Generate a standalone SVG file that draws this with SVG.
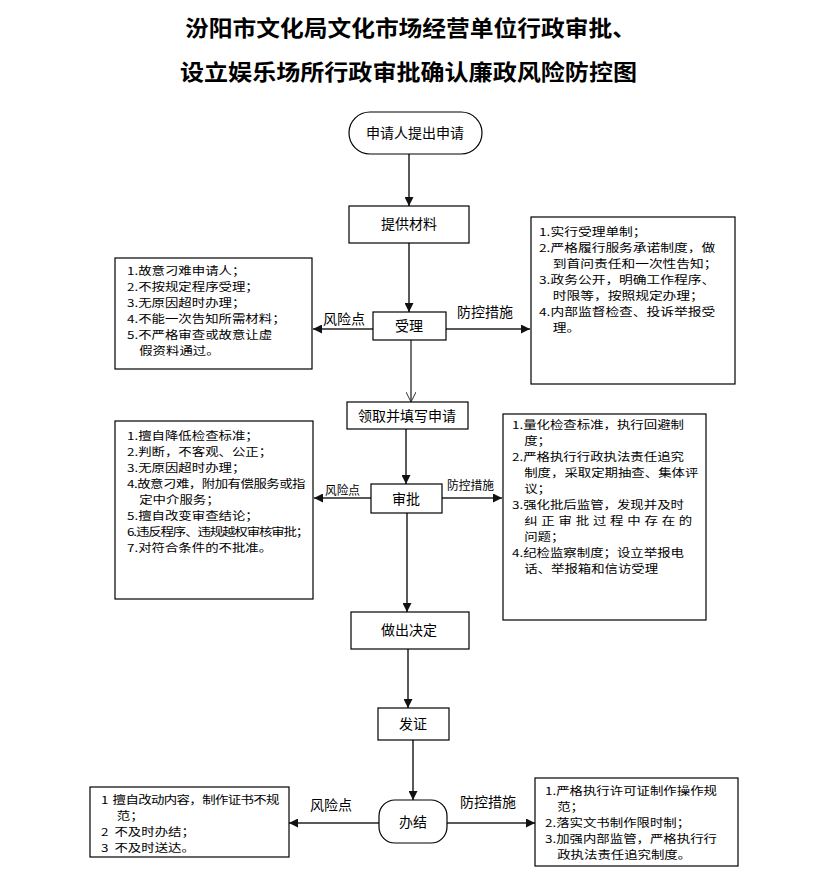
<svg xmlns="http://www.w3.org/2000/svg" width="824" height="885" viewBox="0 0 824 885">
<defs>
<marker id="ah" viewBox="0 0 10 10" refX="10" refY="5" markerWidth="10" markerHeight="9" markerUnits="userSpaceOnUse" orient="auto">
<path d="M0,0 L10,5 L0,10 z" fill="#111"/>
</marker>
<marker id="av" viewBox="0 0 10 10" refX="10" refY="5" markerWidth="10" markerHeight="10" markerUnits="userSpaceOnUse" orient="auto">
<path d="M0,0 L10,5 L0,10" fill="none" stroke="#333" stroke-width="1"/>
</marker>
<style>
.title{font-family:"Noto Sans CJK SC","Noto Sans CJK TC",sans-serif;font-size:22px;font-weight:bold;fill:#000}
.box{fill:#fff;stroke:#000;stroke-width:1.2}
.nt{font-family:"Noto Sans CJK SC",sans-serif;font-size:14px;fill:#000;text-anchor:middle}
.bt{font-family:"Noto Sans CJK SC",sans-serif;font-size:11px;fill:#000}
.lb{font-family:"Noto Sans CJK SC",sans-serif;font-size:14px;fill:#000}
.lbs{font-family:"Noto Sans CJK SC",sans-serif;font-size:12px;fill:#000}
.c{fill:none;stroke:#444;stroke-width:1.5}
.cf{fill:none;stroke:#222;stroke-width:1.5;marker-end:url(#ah)}
</style>
</defs>
<rect width="824" height="885" fill="#fff"/>
<g id="title">
<text class="title" x="185" y="36" textLength="451" lengthAdjust="spacingAndGlyphs">汾阳市文化局文化市场经营单位行政审批、</text>
<text class="title" x="180" y="80" textLength="457" lengthAdjust="spacingAndGlyphs">设立娱乐场所行政审批确认廉政风险防控图</text>
</g>
<g id="connectors">
<line class="cf" x1="409" y1="154" x2="409" y2="206"/>
<line class="cf" x1="409" y1="243" x2="409" y2="312"/>
<line class="c" x1="411" y1="340" x2="411" y2="402" style="marker-end:url(#av)"/>
<line class="cf" x1="406" y1="429" x2="406" y2="484"/>
<line class="cf" x1="407" y1="513" x2="407" y2="612"/>
<line class="cf" x1="408" y1="649" x2="408" y2="708"/>
<line class="cf" x1="413" y1="740" x2="413" y2="800"/>
<line class="cf" x1="373" y1="329" x2="313" y2="329"/>
<line class="cf" x1="446" y1="329" x2="530" y2="329"/>
<line class="cf" x1="371" y1="498" x2="314" y2="498"/>
<line class="cf" x1="442" y1="498" x2="502" y2="498"/>
<line class="cf" x1="379" y1="823" x2="289" y2="823"/>
<line class="cf" x1="447" y1="823" x2="535" y2="823"/>
<text class="lb" x="323" y="324">风险点</text>
<text class="lb" x="457" y="317">防控措施</text>
<text class="lbs" x="325" y="495" textLength="35" lengthAdjust="spacingAndGlyphs">风险点</text>
<text class="lbs" x="447" y="490" textLength="47" lengthAdjust="spacingAndGlyphs">防控措施</text>
<text class="lb" x="310" y="810">风险点</text>
<text class="lb" x="460" y="807">防控措施</text>
</g>
<g id="n-start">
<rect class="box" x="349" y="112" width="133" height="42" rx="21"/>
<text class="nt" x="415" y="138">申请人提出申请</text>
</g>
<g id="n-material">
<rect class="box" x="349" y="206" width="120" height="37"/>
<text class="nt" x="409" y="229">提供材料</text>
</g>
<g id="n-accept">
<rect class="box" x="373" y="312" width="73" height="28"/>
<text class="nt" x="409" y="331">受理</text>
</g>
<g id="n-apply">
<rect class="box" x="347" y="402" width="121" height="27"/>
<text class="nt" x="407" y="421">领取并填写申请</text>
</g>
<g id="n-approve">
<rect class="box" x="371" y="484" width="71" height="29"/>
<text class="nt" x="406" y="504">审批</text>
</g>
<g id="n-decide">
<rect class="box" x="351" y="612" width="118" height="37"/>
<text class="nt" x="409" y="635">做出决定</text>
</g>
<g id="n-license">
<rect class="box" x="378" y="708" width="71" height="32"/>
<text class="nt" x="413" y="729">发证</text>
</g>
<g id="n-finish">
<rect class="box" x="379" y="800" width="68" height="43" rx="16"/>
<text class="nt" x="413" y="827">办结</text>
</g>
<g id="risk-1">
<rect class="box" x="115" y="258" width="197" height="111"/>
<text class="bt" transform="translate(127 0) scale(1.22 1)"><tspan x="0" y="275">1.故意刁难申请人；</tspan><tspan x="0" y="291">2.不按规定程序受理；</tspan><tspan x="0" y="307">3.无原因超时办理；</tspan><tspan x="0" y="323">4.不能一次告知所需材料；</tspan><tspan x="0" y="339">5.不严格审查或故意让虚</tspan><tspan x="10" y="355">假资料通过。</tspan></text>
</g>
<g id="measure-1">
<rect class="box" x="531" y="217" width="204" height="167"/>
<text class="bt" transform="translate(539 0) scale(1.25 1)"><tspan x="0" y="236">1.实行受理单制；</tspan><tspan x="0" y="252">2.严格履行服务承诺制度，做</tspan><tspan x="11" y="268">到首问责任和一次性告知；</tspan><tspan x="0" y="284">3.政务公开，明确工作程序、</tspan><tspan x="11" y="300">时限等，按照规定办理；</tspan><tspan x="0" y="316">4.内部监督检查、投诉举报受</tspan><tspan x="11" y="332">理。</tspan></text>
</g>
<g id="risk-2">
<rect class="box" x="115" y="421" width="198" height="178"/>
<text class="bt" transform="translate(127 0) scale(1.22 1)"><tspan x="0" y="440">1.擅自降低检查标准；</tspan><tspan x="0" y="456">2.判断，不客观、公正；</tspan><tspan x="0" y="472">3.无原因超时办理；</tspan><tspan x="0" y="488" letter-spacing="-0.4">4.故意刁难，附加有偿服务或指</tspan><tspan x="10" y="504">定中介服务；</tspan><tspan x="0" y="520">5.擅自改变审查结论；</tspan><tspan x="0" y="536" letter-spacing="-0.9">6.违反程序、违规越权审核审批；</tspan><tspan x="0" y="552">7.对符合条件的不批准。</tspan></text>
</g>
<g id="measure-2">
<rect class="box" x="503" y="414" width="203" height="206"/>
<text class="bt" transform="translate(512 0) scale(1.22 1)"><tspan x="0" y="429">1.量化检查标准，执行回避制</tspan><tspan x="10" y="445">度；</tspan><tspan x="0" y="461">2.严格执行行政执法责任追究</tspan><tspan x="10" y="477">制度，采取定期抽查、集体评</tspan><tspan x="10" y="493">议；</tspan><tspan x="0" y="509">3.强化批后监管，发现并及时</tspan><tspan x="10" y="525" letter-spacing="3.1">纠正审批过程中存在的</tspan><tspan x="10" y="541">问题；</tspan><tspan x="0" y="557">4.纪检监察制度；设立举报电</tspan><tspan x="10" y="573">话、举报箱和信访受理</tspan></text>
</g>
<g id="risk-3">
<rect class="box" x="90" y="787" width="199" height="70"/>
<text class="bt" transform="translate(101 0) scale(1.22 1)"><tspan x="0" y="804" letter-spacing="-0.5">1&#160;&#160;擅自改动内容，制作证书不规</tspan><tspan x="13" y="820">范；</tspan><tspan x="0" y="836">2&#160;&#160;不及时办结；</tspan><tspan x="0" y="852">3&#160;&#160;不及时送达。</tspan></text>
</g>
<g id="measure-3">
<rect class="box" x="535" y="778" width="203" height="88"/>
<text class="bt" transform="translate(545 0) scale(1.22 1)"><tspan x="0" y="795">1.严格执行许可证制作操作规</tspan><tspan x="10" y="811">范；</tspan><tspan x="0" y="827">2.落实文书制作限时制；</tspan><tspan x="0" y="843">3.加强内部监管，严格执行行</tspan><tspan x="10" y="859">政执法责任追究制度。</tspan></text>
</g>
</svg>
